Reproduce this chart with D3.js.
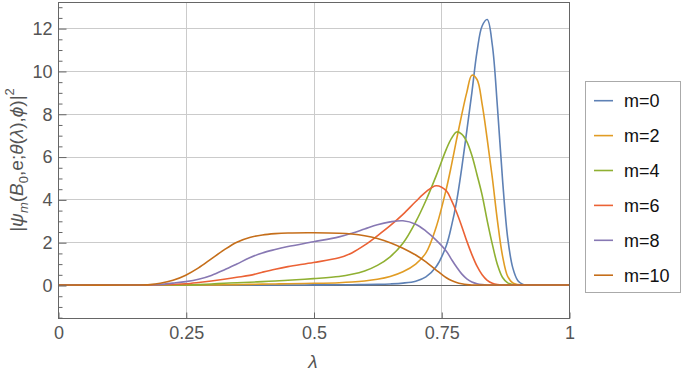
<!DOCTYPE html>
<html>
<head>
<meta charset="utf-8">
<script src="https://cdn.jsdelivr.net/npm/d3@7"></script>
<style>
  body { margin: 0; background: #fff; }
  svg { display: block; font-family: "Liberation Sans", Arial, sans-serif; }
</style>
</head>
<body>
<svg id="chart"></svg>
<script>
// Dimensions
const svg_width = 683;
const svg_height = 375;
const plot = { left: 58, right: 569, top: 2, bottom: 318 };

// Data
const lam = [0, 0.15, 0.18, 0.2, 0.225, 0.25, 0.275, 0.3, 0.325, 0.35, 0.375, 0.4, 0.425, 0.45,
  0.5, 0.55, 0.575, 0.6, 0.625, 0.65, 0.675, 0.7,
  0.72, 0.74, 0.76, 0.77, 0.78, 0.79, 0.8, 0.81,
  0.82, 0.83, 0.84, 0.85, 0.86, 0.87, 0.88, 0.89, 0.9, 0.91, 0.92, 1];

const m0 = [0, 0, 0, 0, 0, 0, 0, 0, 0, 0, 0, 0, 0, 0,
  0.005, 0.01, 0.015, 0.02, 0.03, 0.05, 0.09, 0.18,
  0.38, 0.85, 1.85, 2.75, 3.9, 5.45, 7.2, 9.0,
  10.9, 12.1, 12.4, 11.2, 8.3, 4.9, 2.2, 0.8, 0.2, 0.03, 0, 0];
const m2 = [0, 0, 0, 0, 0, 0, 0, 0, 0.01, 0.02, 0.03, 0.04, 0.05, 0.06,
  0.08, 0.11, 0.14, 0.19, 0.27, 0.4, 0.62, 0.98,
  1.5, 2.7, 4.5, 5.6, 6.8, 7.95, 9.0, 9.8,
  9.6, 8.45, 6.8, 5.0, 3.0, 1.35, 0.4, 0.1, 0.02, 0, 0, 0];
const m4 = [0, 0, 0, 0, 0, 0, 0.02, 0.05, 0.08, 0.11, 0.13, 0.16, 0.19, 0.22,
  0.3, 0.4, 0.5, 0.66, 0.92, 1.32, 1.95, 2.95,
  3.95, 5.1, 6.35, 6.85, 7.15, 7.05, 6.7, 6.05,
  5.15, 4.2, 3.0, 1.9, 0.95, 0.35, 0.1, 0.02, 0, 0, 0, 0];
const m6 = [0, 0, 0, 0.01, 0.03, 0.06, 0.12, 0.19, 0.27, 0.36, 0.45, 0.6, 0.74, 0.86,
  1.05, 1.27, 1.5, 1.86, 2.3, 2.77, 3.3, 3.9,
  4.35, 4.64, 4.4, 3.95, 3.4, 2.75, 2.05, 1.42,
  0.88, 0.48, 0.22, 0.08, 0.02, 0, 0, 0, 0, 0, 0, 0];
const m8 = [0, 0, 0.01, 0.03, 0.09, 0.16, 0.27, 0.45, 0.7, 0.98, 1.27, 1.5, 1.66, 1.8,
  2.02, 2.25, 2.42, 2.62, 2.82, 2.95, 3.0, 2.84,
  2.52, 2.1, 1.58, 1.2, 0.84, 0.52, 0.29, 0.14,
  0.06, 0.02, 0, 0, 0, 0, 0, 0, 0, 0, 0, 0];
const m10 = [0, 0, 0.02, 0.08, 0.22, 0.46, 0.8, 1.22, 1.64, 2.0, 2.22, 2.34, 2.4, 2.43,
  2.44, 2.42, 2.38, 2.3, 2.17, 1.98, 1.72, 1.4,
  1.08, 0.7, 0.34, 0.21, 0.12, 0.06, 0.02, 0,
  0, 0, 0, 0, 0, 0, 0, 0, 0, 0, 0, 0];

const seriesNames = ["m=0", "m=2", "m=4", "m=6", "m=8", "m=10"];
const seriesValues = [m0, m2, m4, m6, m8, m10];
const colors = ["#5e81b5", "#e19c24", "#8fb032", "#eb6235", "#8778b3", "#c56e1a"];

const xTicks = [0, 0.25, 0.5, 0.75, 1];
const xTickLabels = ["0", "0.25", "0.5", "0.75", "1"];
const yTicks = [0, 2, 4, 6, 8, 10, 12];
const yMinorTicks = d3.range(-1.5, 13.01, 0.5).filter(v => v % 2 !== 0);

// SVG canvas
const svg = d3.select("#chart")
  .attr("width", svg_width)
  .attr("height", svg_height);

svg.append("rect").attr("width", svg_width).attr("height", svg_height).attr("fill", "#fff");

// Scales
const x = d3.scaleLinear().domain([0, 1]).range([plot.left, plot.right]);
const y = d3.scaleLinear().domain([-1.54, 13.22]).range([plot.bottom, plot.top]);

const frameColor = "#666";
const gridColor = "#cbcbcb";
const labelColor = "#555";

// Grid lines
svg.append("g").selectAll("line")
  .data(xTicks.filter(v => v > 0 && v < 1))
  .join("line")
  .attr("x1", d => Math.round(x(d)) + 0.5).attr("x2", d => Math.round(x(d)) + 0.5)
  .attr("y1", plot.top).attr("y2", plot.bottom)
  .attr("stroke", gridColor);

svg.append("g").selectAll("line")
  .data(yTicks.filter(v => v !== 0))
  .join("line")
  .attr("x1", plot.left).attr("x2", plot.right)
  .attr("y1", d => Math.round(y(d)) + 0.5).attr("y2", d => Math.round(y(d)) + 0.5)
  .attr("stroke", gridColor);

// Zero axis
svg.append("line")
  .attr("x1", plot.left).attr("x2", plot.right)
  .attr("y1", Math.round(y(0)) + 0.5).attr("y2", Math.round(y(0)) + 0.5)
  .attr("stroke", frameColor);

// Curves
svg.append("clipPath").attr("id", "clip")
  .append("rect")
  .attr("x", plot.left).attr("y", plot.top)
  .attr("width", plot.right - plot.left).attr("height", plot.bottom - plot.top);

const line = d3.line()
  .x((d, i) => x(lam[i]))
  .y(d => y(d))
  .curve(d3.curveCatmullRom.alpha(0.5));

svg.append("g").attr("clip-path", "url(#clip)")
  .selectAll("path")
  .data(seriesValues)
  .join("path")
  .attr("d", d => line(d))
  .attr("fill", "none")
  .attr("stroke", (d, i) => colors[i])
  .attr("stroke-width", 1.6);

// Frame
svg.append("rect")
  .attr("x", plot.left + 0.5).attr("y", plot.top + 0.5)
  .attr("width", plot.right - plot.left).attr("height", plot.bottom - plot.top)
  .attr("fill", "none").attr("stroke", frameColor);

// Axes
const xAxis = d3.axisBottom(x)
  .tickValues(xTicks)
  .tickFormat((d, i) => xTickLabels[i])
  .tickSize(-6)
  .tickPadding(8);

svg.append("g")
  .attr("transform", `translate(0.5, ${plot.bottom + 0.5})`)
  .call(xAxis)
  .call(g => g.select(".domain").remove())
  .call(g => g.selectAll("line").attr("stroke", frameColor))
  .call(g => g.selectAll("text").attr("fill", labelColor).attr("font-size", 18)
    .attr("font-family", "Liberation Sans, Arial, sans-serif"));

const yAxis = d3.axisLeft(y)
  .tickValues(yTicks)
  .tickSize(-8)
  .tickPadding(6);

svg.append("g")
  .attr("transform", `translate(${plot.left + 0.5}, 0.5)`)
  .call(yAxis)
  .call(g => g.select(".domain").remove())
  .call(g => g.selectAll("line").attr("stroke", frameColor))
  .call(g => g.selectAll("text").attr("fill", labelColor).attr("font-size", 18)
    .attr("font-family", "Liberation Sans, Arial, sans-serif"));

svg.append("g")
  .attr("transform", `translate(${plot.left + 0.5}, 0.5)`)
  .call(d3.axisLeft(y).tickValues(yMinorTicks).tickSize(-4).tickFormat(""))
  .call(g => g.select(".domain").remove())
  .call(g => g.selectAll("line").attr("stroke", frameColor));

// Axis labels
svg.append("text")
  .attr("x", 313).attr("y", 368)
  .attr("text-anchor", "middle")
  .attr("font-size", 19)
  .attr("font-style", "italic")
  .attr("fill", labelColor)
  .text("λ");

const yLabel = svg.append("text")
  .attr("transform", `translate(23, ${(plot.top + plot.bottom) / 2}) rotate(-90)`)
  .attr("text-anchor", "middle")
  .attr("font-size", 19)
  .attr("fill", labelColor);
const parts = [
  ["|", null, 0], ["ψ", "italic", 0], ["m", "italic", 5], ["(", null, -5], ["B", "italic", 0],
  ["0", null, 5], [",e;", null, -5], ["θ", "italic", 0], ["(", null, 0], ["λ", "italic", 0],
  ["),", null, 0], ["ϕ", "italic", 0], [")|", null, 0], ["2", null, -9]
];
parts.forEach(([t, style, dy]) => {
  const ts = yLabel.append("tspan").attr("dy", dy).text(t);
  if (style) ts.attr("font-style", style);
  if (t === "m" || t === "0" || t === "2") ts.attr("font-size", 13);
});

// Legend
const legend = svg.append("g");
legend.append("rect")
  .attr("x", 585.5).attr("y", 81.5)
  .attr("width", 95).attr("height", 211)
  .attr("fill", "#fff").attr("stroke", "#aaa");

const legendRow = legend.selectAll("g.row")
  .data(seriesNames)
  .join("g")
  .attr("class", "row")
  .attr("transform", (d, i) => `translate(0, ${100.7 + i * 34.9})`);

legendRow.append("line")
  .attr("x1", 594).attr("x2", 613)
  .attr("stroke", (d, i) => colors[i])
  .attr("stroke-width", 1.6);

legendRow.append("text")
  .attr("x", 624).attr("dy", "0.35em")
  .attr("font-size", 18)
  .attr("fill", "#111")
  .text(d => d);
</script>
</body>
</html>
